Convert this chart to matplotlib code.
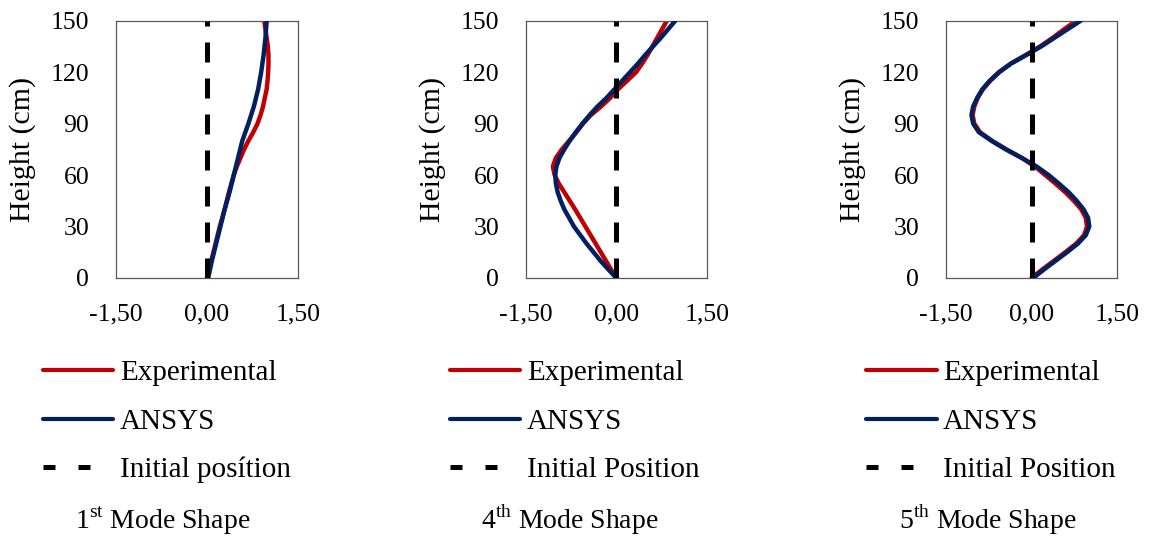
import numpy as np
import matplotlib
matplotlib.use("Agg")
import matplotlib.pyplot as plt
from matplotlib.lines import Line2D

plt.rcParams['font.family'] = ['Liberation Serif', 'DejaVu Serif']
plt.rcParams['mathtext.fontset'] = 'custom'
plt.rcParams['mathtext.rm'] = 'Liberation Serif'

RED = '#C00000'
NAVY = '#002060'

# mode 1
h1_exp = [0, 10, 20, 30, 40, 50, 60, 65, 70, 75, 80, 85, 90, 95, 100, 105, 110, 115,
          120, 125, 130, 135, 140, 145, 150]
x1_exp = [0.0, 0.07, 0.14, 0.21, 0.29, 0.36, 0.44, 0.49, 0.55, 0.61, 0.68, 0.76, 0.83,
          0.88, 0.92, 0.95, 0.98, 0.995, 1.005, 1.01, 1.01, 1.0, 0.98, 0.96, 0.94]
h1_ans = [0, 10, 20, 30, 40, 50, 60, 70, 80, 90, 100, 110, 120, 130, 140, 150]
x1_ans = [0.02, 0.08, 0.15, 0.22, 0.29, 0.37, 0.44, 0.51, 0.58, 0.68, 0.77, 0.84, 0.89,
          0.93, 0.96, 0.98]

# mode 4
h4_exp = [0, 10, 20, 30, 40, 45, 50, 55, 60, 65, 70, 75, 80, 85, 90, 95, 100, 105, 110,
          115, 120, 125, 130, 135, 140, 145, 150]
x4_exp = [0.0, -0.17, -0.34, -0.51, -0.68, -0.77, -0.86, -0.95, -1.02, -1.05, -1.0,
          -0.9, -0.78, -0.66, -0.55, -0.42, -0.25, -0.10, 0.03, 0.18, 0.33, 0.43, 0.52,
          0.60, 0.68, 0.76, 0.84]
h4_ans = [0, 10, 20, 30, 40, 45, 50, 55, 60, 65, 70, 75, 80, 85, 90, 95, 100, 105, 110,
          115, 120, 125, 130, 135, 140, 145, 150]
x4_ans = [0.0, -0.26, -0.49, -0.70, -0.86, -0.92, -0.97, -1.0, -1.01, -0.99, -0.94,
          -0.86, -0.77, -0.67, -0.56, -0.44, -0.31, -0.16, -0.03, 0.10, 0.23, 0.36, 0.48,
          0.61, 0.74, 0.86, 0.98]

# mode 5
h5_exp = [0, 5, 10, 15, 20, 25, 30, 35, 40, 45, 50, 55, 60, 65, 70, 75, 80, 85, 90, 95,
          100, 105, 110, 115, 120, 125, 130, 135, 140, 145, 150]
x5_exp = [0.0, 0.19, 0.39, 0.59, 0.78, 0.92, 0.97, 0.95, 0.87, 0.74, 0.59, 0.42, 0.24,
          0.06, -0.17, -0.44, -0.69, -0.90, -1.00, -1.03, -1.0, -0.94, -0.85, -0.72,
          -0.56, -0.36, -0.10, 0.15, 0.37, 0.57, 0.78]
h5_ans = [0, 5, 10, 15, 20, 25, 30, 35, 40, 45, 50, 55, 60, 65, 70, 75, 80, 85, 90, 95,
          100, 105, 110, 115, 120, 125, 130, 135, 140, 145, 150]
x5_ans = [0.03, 0.22, 0.42, 0.62, 0.81, 0.95, 1.01, 0.99, 0.91, 0.79, 0.65, 0.48, 0.30,
          0.09, -0.17, -0.45, -0.70, -0.92, -1.02, -1.05, -1.02, -0.95, -0.86, -0.73,
          -0.57, -0.36, -0.09, 0.17, 0.40, 0.63, 0.86]

initial_h = [0, 150]
initial_x = [0, 0]

panels = [
    (h1_exp, x1_exp, h1_ans, x1_ans, 'Initial posítion', '1', 'st'),
    (h4_exp, x4_exp, h4_ans, x4_ans, 'Initial Position', '4', 'th'),
    (h5_exp, x5_exp, h5_ans, x5_ans, 'Initial Position', '5', 'th'),
]

xticks = [-1.5, 0.0, 1.5]
xtick_labels = ['-1,50', '0,00', '1,50']
yticks = [0, 30, 60, 90, 120, 150]

W, H = 1150, 538
fig = plt.figure(figsize=(W / 100, H / 100), dpi=100)

# axes boxes in pixels: left, right
ax_px = [(115.7, 298.3), (525.7, 706.7), (945.7, 1117.3)]
top_px, bot_px = 20.7, 278
ylab_x = [23, 433, 853]
leg_x = [(43, 113, 120), (450, 520, 527), (866, 937, 943)]
leg_y = [370, 419, 467]
title_x = [163, 570, 988]
title_y = 529

def fx(p):
    return p / W

def fy(p):
    return 1 - p / H

for i, (he, xe, ha, xa, init_lab, num, sup) in enumerate(panels):
    l, r = ax_px[i]
    ax = fig.add_axes([fx(l), fy(bot_px), (r - l) / W, (bot_px - top_px) / H])
    ax.plot(xe, he, color=RED, lw=3.2, solid_capstyle='round',
            solid_joinstyle='round', zorder=2)
    ax.plot(xa, ha, color=NAVY, lw=3.2, solid_capstyle='round',
            solid_joinstyle='round', zorder=3)
    ax.plot(initial_x, initial_h, color='black', lw=3.6, dashes=(4, 3.2),
            dash_capstyle='butt', zorder=4)
    ax.set_xlim(-1.5, 1.5)
    ax.set_ylim(0, 150)
    ax.set_xticks(xticks)
    ax.set_xticklabels(xtick_labels)
    ax.set_yticks(yticks)
    ax.tick_params(length=0, labelsize=18.5)
    ax.tick_params(axis='x', pad=18)
    ax.tick_params(axis='y', pad=19)
    for s in ax.spines.values():
        s.set_color('#595959')
        s.set_linewidth(0.9)

    fig.text(fx(ylab_x[i]), fy((top_px + bot_px) / 2), 'Height (cm)', rotation=90,
             ha='center', va='center', fontsize=21.5)

    x0, x1, xt = leg_x[i]
    fig.add_artist(Line2D([fx(x0), fx(x1)], [fy(leg_y[0])] * 2, color=RED, lw=3,
                          solid_capstyle='round'))
    fig.add_artist(Line2D([fx(x0), fx(x1)], [fy(leg_y[1])] * 2, color=NAVY, lw=3,
                          solid_capstyle='round'))
    fig.add_artist(Line2D([fx(x0), fx(x0 + 54)], [fy(leg_y[2])] * 2, color='black',
                          lw=3.6, dashes=(2.4, 4.6), dash_capstyle='butt'))
    for lab, yy in zip(['Experimental', 'ANSYS', init_lab], leg_y):
        fig.text(fx(xt), fy(yy), lab, ha='left', va='center_baseline', fontsize=21)

    fig.text(fx(title_x[i]), fy(title_y), num + r'$^{\mathrm{' + sup + r'}}$' + ' Mode Shape',
             ha='center', va='baseline', fontsize=20)

fig.savefig('out.png', dpi=100)
